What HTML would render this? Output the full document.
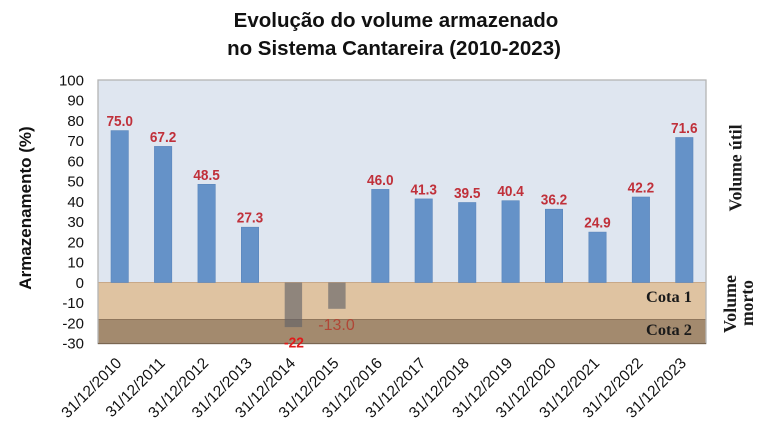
<!DOCTYPE html>
<html><head><meta charset="utf-8"><style>
html,body{margin:0;padding:0;background:#fff;}
svg{display:block;}
</style></head><body>
<svg width="768" height="428" viewBox="0 0 768 428" xmlns="http://www.w3.org/2000/svg">
<!-- title -->
<g font-family="Liberation Sans, Arial, sans-serif" font-weight="bold" font-size="20.5" fill="#111" text-anchor="middle">
<text x="396" y="27">Evolução do volume armazenado</text>
<text x="394" y="55">no Sistema Cantareira (2010-2023)</text>
</g>
<!-- plot areas -->
<rect x="98" y="80" width="608" height="202.5" fill="#dfe6f0"/>
<rect x="98" y="282.5" width="608" height="37" fill="#dfc3a1"/>
<rect x="98" y="319.5" width="608" height="24" fill="#a38a6e"/>
<line x1="98" y1="282.5" x2="706" y2="282.5" stroke="#c8a888" stroke-width="1"/>
<line x1="98" y1="319.5" x2="706" y2="319.5" stroke="#8f765c" stroke-width="1"/>
<rect x="98" y="80" width="608" height="263.5" fill="none" stroke="#b4b4b4" stroke-width="1.3"/>
<line x1="98" y1="343.5" x2="706" y2="343.5" stroke="#7a6650" stroke-width="1.3"/>
<!-- bars -->
<g fill="#6592c8" stroke="#5a86bb" stroke-width="0.6">
<rect x="111.0" y="130.6" width="17.4" height="151.9"/>
<rect x="154.4" y="146.4" width="17.4" height="136.1"/>
<rect x="197.9" y="184.3" width="17.4" height="98.2"/>
<rect x="241.3" y="227.2" width="17.4" height="55.3"/>
<rect x="371.6" y="189.4" width="17.4" height="93.1"/>
<rect x="415.0" y="198.9" width="17.4" height="83.6"/>
<rect x="458.5" y="202.5" width="17.4" height="80"/>
<rect x="501.9" y="200.7" width="17.4" height="81.8"/>
<rect x="545.3" y="209.2" width="17.4" height="73.3"/>
<rect x="588.8" y="232.1" width="17.4" height="50.4"/>
<rect x="632.2" y="197.0" width="17.4" height="85.5"/>
<rect x="675.6" y="137.5" width="17.4" height="145"/>
</g>
<g fill="rgb(97,97,103)" fill-opacity="0.63">
<rect x="284.7" y="282.5" width="17.4" height="44.6"/>
<rect x="328.2" y="282.5" width="17.4" height="26.3"/>
</g>
<!-- value labels -->
<g font-family="Liberation Sans, Arial, sans-serif" font-weight="bold" font-size="15" fill="#c0303a" text-anchor="middle">
<text x="119.7" y="126" textLength="26.5" lengthAdjust="spacingAndGlyphs">75.0</text>
<text x="163.1" y="142" textLength="26.5" lengthAdjust="spacingAndGlyphs">67.2</text>
<text x="206.6" y="180" textLength="26.5" lengthAdjust="spacingAndGlyphs">48.5</text>
<text x="250.0" y="222.5" textLength="26.5" lengthAdjust="spacingAndGlyphs">27.3</text>
<text x="380.3" y="185" textLength="26.5" lengthAdjust="spacingAndGlyphs">46.0</text>
<text x="423.7" y="194.5" textLength="26.5" lengthAdjust="spacingAndGlyphs">41.3</text>
<text x="467.2" y="198" textLength="26.5" lengthAdjust="spacingAndGlyphs">39.5</text>
<text x="510.6" y="196" textLength="26.5" lengthAdjust="spacingAndGlyphs">40.4</text>
<text x="554.0" y="204.5" textLength="26.5" lengthAdjust="spacingAndGlyphs">36.2</text>
<text x="597.5" y="227.5" textLength="26.5" lengthAdjust="spacingAndGlyphs">24.9</text>
<text x="640.9" y="192.5" textLength="26.5" lengthAdjust="spacingAndGlyphs">42.2</text>
<text x="684.3" y="133" textLength="26.5" lengthAdjust="spacingAndGlyphs">71.6</text>
<text x="294" y="347.3" fill="#e01b1b" textLength="20" lengthAdjust="spacingAndGlyphs">-22</text>
</g>
<text x="336.5" y="330" font-family="Liberation Sans, Arial, sans-serif" font-size="16" fill="#b04636" text-anchor="middle">-13.0</text>
<!-- y tick labels -->
<g font-family="Liberation Sans, Arial, sans-serif" font-size="15" fill="#111" text-anchor="end">
<text x="84" y="85.4">100</text>
<text x="84" y="105.7">90</text>
<text x="84" y="125.9">80</text>
<text x="84" y="146.2">70</text>
<text x="84" y="166.4">60</text>
<text x="84" y="186.6">50</text>
<text x="84" y="206.9">40</text>
<text x="84" y="227.1">30</text>
<text x="84" y="247.4">20</text>
<text x="84" y="267.6">10</text>
<text x="84" y="287.9">0</text>
<text x="84" y="308.1">-10</text>
<text x="84" y="328.4">-20</text>
<text x="84" y="348.6">-30</text>
</g>
<!-- y axis title -->
<text transform="translate(31,208) rotate(-90)" font-family="Liberation Sans, Arial, sans-serif" font-weight="bold" font-size="17" fill="#111" text-anchor="middle">Armazenamento (%)</text>
<!-- cota labels -->
<g font-family="Liberation Serif, serif" font-weight="bold" font-size="15.5" fill="#1a1a1a" text-anchor="end">
<text x="692" y="302" textLength="46" lengthAdjust="spacingAndGlyphs">Cota 1</text>
<text x="692" y="335" textLength="46" lengthAdjust="spacingAndGlyphs">Cota 2</text>
</g>
<!-- right labels -->
<g font-family="Liberation Serif, serif" font-weight="bold" font-size="17.5" fill="#1a1a1a" text-anchor="middle">
<text transform="translate(741.5,168) rotate(-90)" textLength="87" lengthAdjust="spacingAndGlyphs">Volume útil</text>
<text transform="translate(736,304) rotate(-90)" textLength="58" lengthAdjust="spacingAndGlyphs">Volume</text>
<text transform="translate(753,303) rotate(-90)" textLength="46" lengthAdjust="spacingAndGlyphs">morto</text>
</g>
<!-- x labels -->
<g font-family="Liberation Sans, Arial, sans-serif" font-size="15.5" fill="#111" text-anchor="end">
<text transform="translate(122.5,364) rotate(-45)">31/12/2010</text>
<text transform="translate(165.9,364) rotate(-45)">31/12/2011</text>
<text transform="translate(209.4,364) rotate(-45)">31/12/2012</text>
<text transform="translate(252.8,364) rotate(-45)">31/12/2013</text>
<text transform="translate(296.2,364) rotate(-45)">31/12/2014</text>
<text transform="translate(339.7,364) rotate(-45)">31/12/2015</text>
<text transform="translate(383.1,364) rotate(-45)">31/12/2016</text>
<text transform="translate(426.5,364) rotate(-45)">31/12/2017</text>
<text transform="translate(470.0,364) rotate(-45)">31/12/2018</text>
<text transform="translate(513.4,364) rotate(-45)">31/12/2019</text>
<text transform="translate(556.8,364) rotate(-45)">31/12/2020</text>
<text transform="translate(600.3,364) rotate(-45)">31/12/2021</text>
<text transform="translate(643.7,364) rotate(-45)">31/12/2022</text>
<text transform="translate(687.1,364) rotate(-45)">31/12/2023</text>
</g>
</svg>
</body></html>
